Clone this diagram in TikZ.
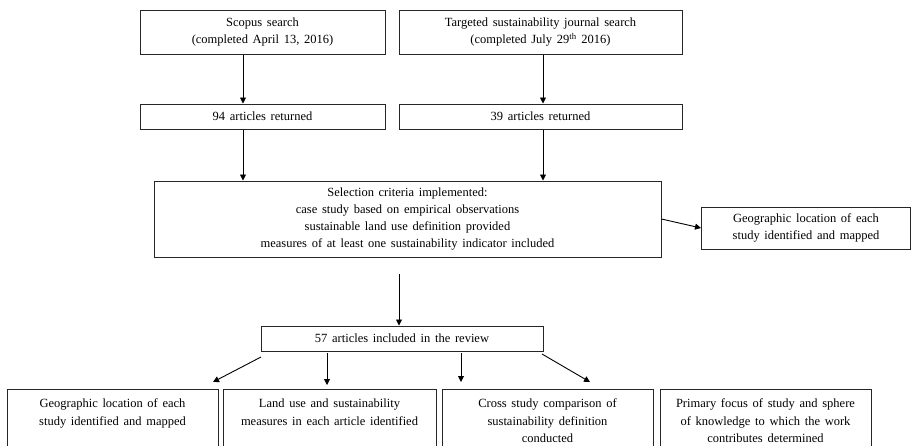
\documentclass[tikz,border=0pt]{standalone}
\usepackage{fontspec}
\setmainfont{Liberation Serif}[WordSpace=1.5]
\usetikzlibrary{arrows.meta}
\begin{document}
\begin{tikzpicture}[x=1pt,y=-1pt,
  every node/.style={font=\fontsize{12.5}{17.5}\selectfont},
  box/.style={draw=black!85, line width=1pt, inner sep=0pt, align=center},
  bottombox/.style={draw=black!85, line width=1pt, inner sep=0pt, anchor=north},
  arr/.style={line width=0.9pt, -{Triangle[length=6pt,width=6pt]}}]
\useasboundingbox (0,0) rectangle (912,445);
% top row
\node[box, minimum width=245pt, minimum height=44pt] (A) at (262.5,32) {Scopus search\\(completed April 13, 2016)};
\node[box, minimum width=283pt, minimum height=44pt] (B) at (540.5,32) {Targeted sustainability journal search\\(completed July 29\textsuperscript{th} 2016)};
% second row
\node[box, minimum width=245pt, minimum height=25pt] (C) at (262.5,116.5) {94 articles returned};
\node[box, minimum width=283pt, minimum height=25pt] (D) at (540.5,116.5) {39 articles returned};
% selection
\node[box, minimum width=507pt, minimum height=76pt, font=\fontsize{12.5}{16.7}\selectfont] (Sel) at (407.5,219) {Selection criteria implemented:\\case study based on empirical observations\\sustainable land use definition provided\\measures of at least one sustainability indicator included};
\node[box, minimum width=209pt, minimum height=42pt] (Geo) at (806,228) {Geographic location of each\\study identified and mapped};
% 57
\node[box, minimum width=282pt, minimum height=25pt] (N57) at (402,338.5) {57 articles included in the review};
% bottom boxes
\node[bottombox] (R1) at (112.5,389) {\parbox[c][60pt][t]{211pt}{\centering\rule{0pt}{18pt}Geographic location of each\\study identified and mapped}};
\node[bottombox] (R2) at (329.5,389) {\parbox[c][60pt][t]{213pt}{\centering\rule{0pt}{18pt}Land use and sustainability\\measures in each article identified}};
\node[bottombox] (R3) at (547.5,389) {\parbox[c][60pt][t]{211pt}{\centering\rule{0pt}{18pt}Cross study comparison of\\sustainability definition\\conducted}};
\node[bottombox] (R4) at (765.5,389) {\parbox[c][60pt][t]{211pt}{\centering\rule{0pt}{18pt}Primary focus of study and sphere\\of knowledge to which the work\\contributes determined}};
% coordinates
\coordinate (s57) at (399,274);
\coordinate (a1s) at (261,357);
\coordinate (a1e) at (213,382);
\coordinate (a2s) at (327,353);
\coordinate (a2e) at (327,385);
\coordinate (a3s) at (461,353);
\coordinate (a3e) at (461,382);
\coordinate (a4s) at (542,354);
\coordinate (a4e) at (590,382);
% connectors
\draw[arr] ([xshift=-19.5pt]A.south) -- ([xshift=-19.5pt]A.south |- C.north);
\draw[arr] ([xshift=2.5pt]B.south) -- ([xshift=2.5pt]B.south |- D.north);
\draw[arr] ([xshift=-19.5pt]C.south) -- ([xshift=-19.5pt]C.south |- Sel.north);
\draw[arr] ([xshift=2.5pt]D.south) -- ([xshift=2.5pt]D.south |- Sel.north);
\draw[arr] (Sel.east) -- (Geo.west);
\draw[arr] (s57) -- (s57 |- N57.north);
\draw[arr] (a1s) -- (a1e);
\draw[arr] (a2s) -- (a2e);
\draw[arr] (a3s) -- (a3e);
\draw[arr] (a4s) -- (a4e);
\end{tikzpicture}
\end{document}
